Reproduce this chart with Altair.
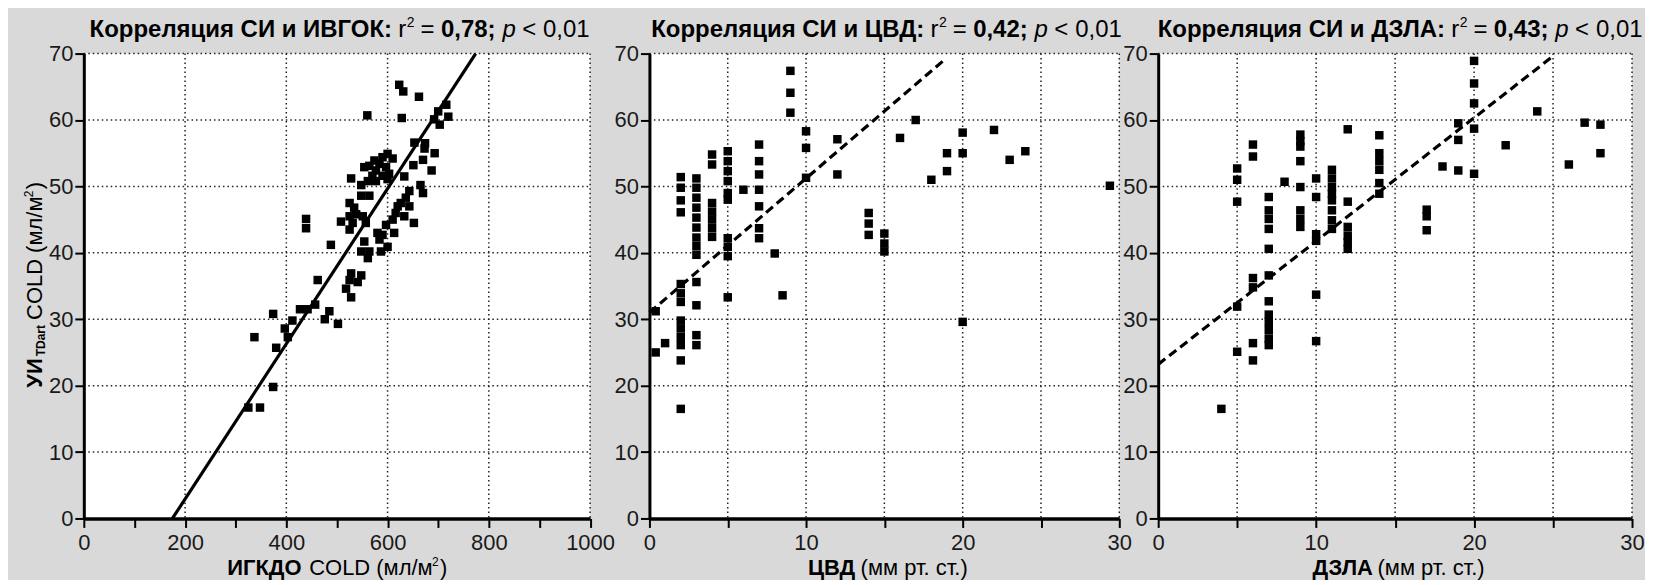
import altair as alt
import pandas as pd

FONT = "Liberation Sans"

# ---------------- data ----------------
# Panel 1: ИГКДО (x) vs УИ (y)
igkdo_x = [623, 631, 662, 560, 628, 716, 700, 720, 692, 703,
           653, 674, 673, 693, 670, 651, 687, 665, 670, 600,
           590, 610, 574, 584, 564, 554, 597, 577, 603, 570,
           590, 528, 561, 548, 577, 600, 633, 643, 636, 626,
           643, 620, 616, 633, 652, 610, 597, 525, 534, 548,
           564, 538, 551, 525, 508, 531, 557, 525, 580, 590,
           613, 584, 600, 554, 548, 564, 561, 587, 488, 439,
           439, 528, 548, 525, 541, 518, 528, 462, 427, 442,
           457, 476, 485, 502, 374, 337, 380, 397, 403, 412,
           374, 325, 348]
igkdo_y = [65.3, 64.3, 63.5, 60.7, 60.3, 62.3, 61.3, 60.5, 60.1, 59.3,
           56.6, 56.5, 55.7, 55.0, 54.0, 53.2, 52.4, 50.2, 49.0, 54.9,
           54.4, 54.2, 53.9, 53.4, 53.1, 52.9, 52.9, 52.4, 51.9, 51.6,
           51.6, 51.2, 50.8, 50.2, 50.8, 51.1, 51.5, 49.3, 48.3, 47.5,
           47.0, 47.0, 46.0, 45.5, 44.5, 45.0, 44.2, 47.5, 46.8, 48.6,
           48.6, 45.8, 45.5, 45.5, 44.7, 44.5, 44.5, 43.5, 43.0, 42.7,
           43.0, 42.0, 40.9, 41.7, 40.2, 40.2, 39.2, 40.2, 41.2, 45.1,
           43.7, 36.9, 36.6, 35.9, 35.6, 34.6, 33.3, 35.9, 31.5, 31.5,
           32.2, 30.0, 31.2, 29.3, 30.8, 27.3, 25.7, 28.6, 27.3, 29.8,
           19.8, 16.7, 16.7]
line1_x = [175, 774]
line1_y = [0, 70]

# Panel 2: ЦВД (x) vs УИ (y)
cvd_x = [0.4, 0.4, 1,
         2, 2, 2, 2, 2, 2, 2, 2, 2, 2, 2, 2, 2,
         3, 3, 3, 3, 3, 3, 3, 3, 3, 3, 3, 3, 3,
         4, 4, 4, 4, 4, 4, 4,
         5, 5, 5, 5, 5, 5, 5, 5, 5, 5,
         6,
         7, 7, 7, 7, 7, 7, 7,
         8, 8.5,
         9, 9, 9,
         10, 10, 10,
         12, 12,
         14, 14, 14,
         15, 15, 15,
         16, 17, 18, 19, 19, 20, 20, 20, 22, 23, 24, 29.4]
cvd_y = [31.2, 25.0, 26.4,
         51.4, 49.8, 47.9, 46.1, 35.3, 33.9, 32.6, 29.8, 28.6, 27.3, 26.1, 23.8, 16.5,
         51.2, 49.8, 48.3, 46.8, 45.3, 43.8, 42.3, 41.0, 39.7, 35.6, 32.1, 27.6, 26.1,
         54.8, 53.3, 47.5, 46.2, 45.0, 43.7, 42.4,
         55.3, 53.8, 52.3, 50.8, 49.0, 48.0, 42.2, 40.9, 39.5, 33.3,
         49.5,
         56.3, 53.8, 51.8, 49.5, 47.0, 43.7, 42.2,
         39.9, 33.6,
         67.4, 64.1, 61.1,
         58.3, 55.8, 51.3,
         57.1, 51.8,
         46.0, 44.4, 42.7,
         42.9, 41.4, 40.2,
         57.3, 60.0, 51.0, 52.3, 55.0, 58.1, 55.0, 29.6, 58.5, 54.0, 55.3, 50.1]
line2_x = [0, 18.8]
line2_y = [31.0, 69.0]

# Panel 3: ДЗЛА (x) vs УИ (y)
dzla_x = [4,
          5, 5, 5, 5, 5,
          6, 6, 6, 6, 6, 6,
          7, 7, 7, 7, 7, 7, 7, 7, 7, 7, 7, 7,
          8,
          9, 9, 9, 9, 9, 9, 9, 9,
          10, 10, 10, 10, 10, 10,
          11, 11, 11, 11, 11, 11, 11, 11,
          12, 12, 12, 12, 12, 12,
          14, 14, 14, 14, 14, 14,
          17, 17, 17,
          18,
          19, 19, 19,
          20, 20, 20, 20, 20,
          22, 24, 26, 27, 28, 28]
dzla_y = [16.5,
          52.7, 51.0, 47.7, 31.9, 25.1,
          56.3, 54.5, 36.2, 34.8, 26.4, 23.8,
          48.4, 46.4, 45.1, 43.6, 40.6, 36.6, 32.7, 30.7, 29.6, 28.4, 27.1, 26.1,
          50.7,
          57.8, 56.8, 56.0, 53.8, 49.9, 46.4, 45.1, 43.9,
          51.2, 48.4, 42.8, 41.8, 33.7, 26.7,
          52.5, 51.2, 49.9, 48.9, 47.9, 46.4, 44.9, 43.6,
          58.6, 47.7, 43.9, 42.6, 41.6, 40.6,
          57.7, 55.0, 53.8, 52.5, 50.5, 48.9,
          46.5, 45.5, 43.4,
          53.0,
          59.5, 57.0, 52.4,
          68.9, 65.5, 62.5, 58.7, 51.9,
          56.2, 61.3, 53.3, 59.6, 59.3, 55.0]
line3_x = [0, 25.1]
line3_y = [23.2, 69.8]

# axis / grid values and texts
y_ticks = [0, 10, 20, 30, 40, 50, 60, 70]
y_grid = [10, 20, 30, 40, 50, 60, 70]
x1_ticks = [0, 100, 200, 300, 400, 500, 600, 700, 800, 900, 1000]
x1_grid = [200, 400, 600, 800, 1000]
x23_ticks = [0, 5, 10, 15, 20, 25, 30]
x23_grid = [5, 10, 15, 20, 25, 30]

title_bold = ["Корреляция СИ и ИВГОК:", "Корреляция СИ и ЦВД:", "Корреляция СИ и ДЗЛА:"]
title_r2 = ["0,78;", "0,42;", "0,43;"]
xlab_bold = ["ИГКДО", "ЦВД", "ДЗЛА"]
xlab_rest = ["COLD (мл/м", "(мм рт. ст.)", "(мм рт. ст.)"]

H = 466
TY = -17     # title baseline
XTY = 523    # x-axis title baseline
GAP_EXTRA = 20  # extra empty room right of panel 1 (panel gaps differ)


def txt(s, x, y, size, weight="normal", style="normal", angle=0, align="left"):
    kw = dict(align=align, baseline="alphabetic", font=FONT, fontSize=size,
              fontWeight=weight, fontStyle=style, color="black")
    if angle:
        kw["angle"] = angle
    return alt.Chart(pd.DataFrame({"t": [s]})).mark_text(**kw).encode(
        x=alt.value(x), y=alt.value(y), text="t:N")


def title_pieces(i, c):
    return [
        txt(title_bold[i], c, TY, 24, weight="bold", align="right"),
        txt("r", c + 6.3, TY, 24),
        txt("2", c + 14.8, TY - 10, 14),
        txt("=", c + 28.5, TY, 24),
        txt(title_r2[i], c + 49, TY, 24, weight="bold"),
        txt("p", c + 110.6, TY, 24, style="italic"),
        txt("<", c + 130.4, TY, 24),
        txt("0,01", c + 151.3, TY, 24),
    ]


def panel(xv, yv, lx, ly, xdom, xticks, xgrid, step, width, dashed, extra, extra_w=0):
    xs = alt.Scale(domain=xdom, nice=False, zero=False, range=[0, width])
    ys = alt.Scale(domain=[0, 70], nice=False, zero=False)
    common = dict(title=None, grid=False, domainColor="black", tickColor="black",
                  tickWidth=2, tickSize=9, labelFlush=False, labelFont=FONT,
                  labelFontSize=22, labelColor="#1a1a1a", zindex=1, format="d")
    xaxis = alt.Axis(values=xticks, domainWidth=3.5, labelPadding=5,
                     labelExpr=f"datum.value % {step} == 0 ? datum.label : ''", **common)
    yaxis = alt.Axis(values=y_ticks, domainWidth=3, labelPadding=2, **common)

    bg = alt.Chart(pd.DataFrame({"b": [0]})).mark_rect(color="white").encode(
        x=alt.value(0), x2=alt.value(width), y=alt.value(0), y2=alt.value(H))
    grid_style = dict(color="#222222", strokeWidth=1.5, strokeDash=[1.5, 3])
    vg = alt.Chart(pd.DataFrame({"g": xgrid})).mark_rule(**grid_style).encode(
        x=alt.X("g:Q", scale=xs, axis=xaxis))
    hg = alt.Chart(pd.DataFrame({"h": y_grid})).mark_rule(**grid_style).encode(
        y=alt.Y("h:Q", scale=ys, axis=yaxis), x=alt.value(0), x2=alt.value(width))
    pts = alt.Chart(pd.DataFrame({"x": xv, "y": yv})).mark_square(
        size=72, color="black", opacity=1).encode(
        x=alt.X("x:Q", scale=xs, axis=xaxis), y=alt.Y("y:Q", scale=ys, axis=yaxis))
    lkw = dict(color="black", strokeWidth=3.2)
    if dashed:
        lkw["strokeDash"] = [9, 5]
    ln = alt.Chart(pd.DataFrame({"x": lx, "y": ly})).mark_line(**lkw).encode(
        x=alt.X("x:Q", scale=xs, axis=xaxis), y=alt.Y("y:Q", scale=ys, axis=yaxis))
    return alt.layer(bg, vg, hg, ln, pts, *extra).properties(width=width + extra_w, height=H)


W1, W2, W3 = 507.5, 471, 475

p1_extra = title_pieces(0, 309) + [
    txt(xlab_bold[0], 143.75, XTY, 22, weight="bold"),
    txt(xlab_rest[0], 226, XTY, 22),
    txt("2", 349, XTY - 9, 12),
    txt(")", 357, XTY, 22),
    # rotated y-axis title
    txt("УИ", -42, 335, 22, weight="bold", angle=270),
    txt("TDart", -39, 303.4, 12, weight="bold", angle=270),
    txt("COLD (мл/м", -42, 267, 22, angle=270),
    txt("2", -51, 144, 12, angle=270),
    txt(")", -42, 136, 22, angle=270),
]
p2_extra = title_pieces(1, 275.5) + [
    txt(xlab_bold[1], 159, XTY, 22, weight="bold"),
    txt(xlab_rest[1], 211.7, XTY, 22),
]
p3_extra = title_pieces(2, 287.5) + [
    txt(xlab_bold[2], 154.75, XTY, 22, weight="bold"),
    txt(xlab_rest[2], 219.9, XTY, 22),
]

p1 = panel(igkdo_x, igkdo_y, line1_x, line1_y, [0, 1000], x1_ticks, x1_grid, 200, W1, False,
           p1_extra, extra_w=GAP_EXTRA)
p2 = panel(cvd_x, cvd_y, line2_x, line2_y, [0, 30], x23_ticks, x23_grid, 10, W2, True, p2_extra)
p3 = panel(dzla_x, dzla_y, line3_x, line3_y, [0, 30], x23_ticks, x23_grid, 10, W3, True, p3_extra)

chart = alt.HConcatChart(hconcat=[p1, p2, p3], spacing=39, bounds="flush").properties(
    padding={"left": 15, "top": 7, "right": 0, "bottom": 0}
).configure(background="#d9d9d9").configure_view(fill="transparent", strokeWidth=0)

chart.save("out.html", embed_options={"renderer": "svg", "actions": False})
